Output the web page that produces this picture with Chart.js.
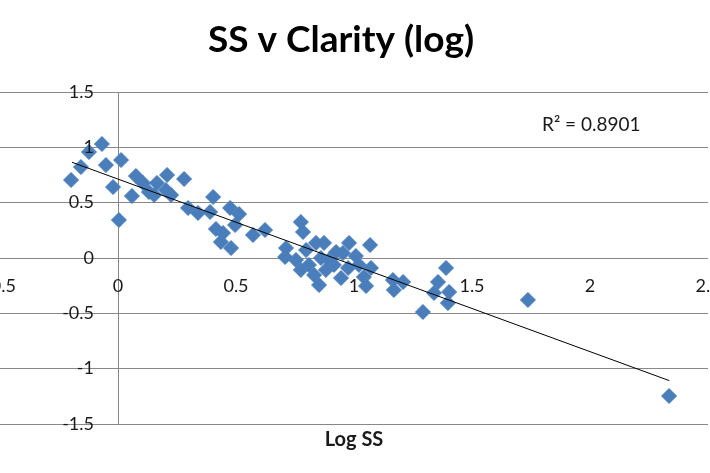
<!DOCTYPE html>
<html>
<head>
<meta charset="utf-8">
<title>SS v Clarity (log)</title>
<script src="https://cdn.jsdelivr.net/npm/chart.js@4/dist/chart.umd.min.js"></script>
<style>
    html, body { margin: 0; padding: 0; background: #fff; }
    #wrap { width: 710px; height: 473px; }
</style>
</head>
<body>
<div id="wrap"><canvas id="chart" width="710" height="473"></canvas></div>
<script>
// Data
const logSS = [
    -0.199, -0.157, -0.123, -0.068, -0.051, -0.021, 0.013, 0.004, 0.059, 0.076,
    0.106, 0.131, 0.165, 0.153, 0.208, 0.203, 0.225, 0.280, 0.297, 0.339,
    0.403, 0.390, 0.475, 0.513, 0.496, 0.415, 0.445, 0.436, 0.479, 0.572,
    0.623, 0.775, 0.784, 0.712, 0.708, 0.839, 0.873, 0.979, 1.068, 0.924,
    0.953, 0.754, 0.809, 0.831, 0.881, 0.852, 0.915, 0.945, 0.975, 1.021,
    1.042, 1.051, 1.072, 1.165, 1.208, 1.169, 1.390, 1.356, 1.339, 1.403,
    1.398, 1.292, 1.737, 2.335, 0.797, 0.860, 0.894, 0.775, 1.008
];
const logClarity = [
    0.705, 0.822, 0.958, 1.030, 0.840, 0.641, 0.885, 0.343, 0.560, 0.741,
    0.678, 0.596, 0.678, 0.569, 0.750, 0.614, 0.569, 0.714, 0.452, 0.407,
    0.551, 0.416, 0.452, 0.397, 0.298, 0.262, 0.226, 0.145, 0.090, 0.208,
    0.253, 0.325, 0.235, 0.090, 0.009, 0.136, 0.136, 0.136, 0.117, 0.054,
    0.045, -0.018, -0.063, -0.154, -0.108, -0.244, -0.063, -0.181, -0.090, -0.063,
    -0.172, -0.253, -0.090, -0.199, -0.217, -0.289, -0.090, -0.217, -0.316, -0.307,
    -0.407, -0.488, -0.379, -1.247, 0.072, 0.000, -0.018, -0.108, 0.018
];
const trendX = [-0.195, 2.336];
const trendY = [0.865, -1.108];
const xTickValues = [-0.5, 0, 0.5, 1, 1.5, 2, 2.5];
const yTickValues = [-1.5, -1, -0.5, 0, 0.5, 1, 1.5];
const chartTitle = 'SS v Clarity (log)';
const rSquaredText = 'R\u00B2 = 0.8901';

const FONT = 'Lato, "Open Sans", sans-serif';
const GRID = '#888888';
const TEXT = '#1a1a1a';

// Excel-style labels: title sits over the uncropped chart, tick labels
// are drawn next to the axes that cross at zero
const crossLabels = {
    id: 'crossLabels',
    afterDraw(chart) {
        const { ctx, scales: { x, y } } = chart;
        const y0 = y.getPixelForValue(0);
        const x0 = x.getPixelForValue(0);
        ctx.save();

        ctx.fillStyle = '#000';
        ctx.font = 'bold 37px ' + FONT;
        ctx.textAlign = 'center';
        ctx.textBaseline = 'middle';
        ctx.fillText(chartTitle, 341, 40);

        ctx.fillStyle = TEXT;
        ctx.font = '18px ' + FONT;
        ctx.textAlign = 'right';
        y.ticks.forEach(t => {
            ctx.fillText(String(t.value), x0 - 24, y.getPixelForValue(t.value));
        });

        ctx.textAlign = 'center';
        x.ticks.forEach(t => {
            ctx.fillText(String(t.value), x.getPixelForValue(t.value), y0 + 28);
        });

        ctx.font = '19px ' + FONT;
        ctx.textAlign = 'left';
        ctx.fillText(rSquaredText, 542, 125);
        ctx.restore();
    }
};

document.addEventListener('DOMContentLoaded', () => {
    const points = logSS.map((v, i) => ({ x: v, y: logClarity[i] }));
    const trend = trendX.map((v, i) => ({ x: v, y: trendY[i] }));

    new Chart(document.getElementById('chart'), {
        type: 'scatter',
        data: {
            datasets: [
                {
                    label: 'Linear trend',
                    data: trend,
                    showLine: true,
                    borderColor: '#000',
                    borderWidth: 1,
                    pointRadius: 0,
                    order: 0
                },
                {
                    label: 'Log Clarity',
                    data: points,
                    pointStyle: 'rectRot',
                    pointRadius: 7.5,
                    pointBackgroundColor: '#4a7ebb',
                    pointBorderColor: '#4a7ebb',
                    pointBorderWidth: 1,
                    order: 1
                }
            ]
        },
        options: {
            responsive: false,
            animation: false,
            layout: {
                autoPadding: false,
                padding: { left: 0, right: 2, top: 92, bottom: 17 }
            },
            plugins: {
                legend: { display: false },
                tooltip: { enabled: false },
                title: { display: false }
            },
            scales: {
                x: {
                    type: 'linear',
                    min: -0.5,
                    max: 2.5,
                    afterBuildTicks: s => { s.ticks = xTickValues.map(v => ({ value: v })); },
                    ticks: { display: false },
                    border: { display: false },
                    grid: {
                        drawTicks: false,
                        color: c => (c.tick && c.tick.value === 0 ? GRID : 'rgba(0,0,0,0)')
                    },
                    title: {
                        display: true,
                        text: 'Log SS',
                        color: TEXT,
                        font: { family: FONT, size: 20, weight: 'bold' },
                        padding: { top: 4, bottom: 4 }
                    }
                },
                y: {
                    type: 'linear',
                    min: -1.5,
                    max: 1.5,
                    afterBuildTicks: s => { s.ticks = yTickValues.map(v => ({ value: v })); },
                    ticks: { display: false },
                    border: { display: false },
                    grid: { drawTicks: false, color: GRID }
                }
            }
        },
        plugins: [crossLabels]
    });
});
</script>
</body>
</html>
